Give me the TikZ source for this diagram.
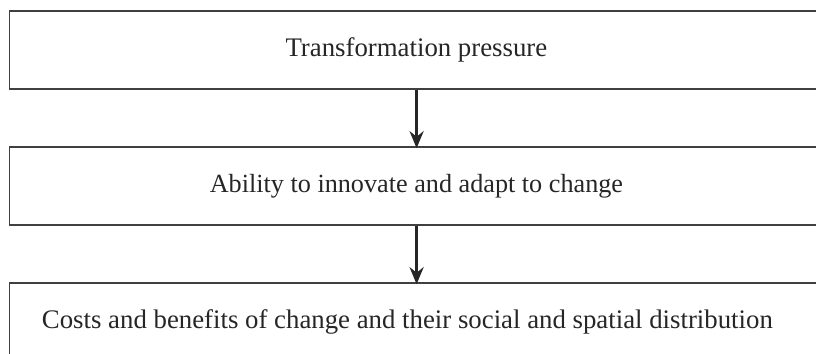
\documentclass[tikz,border=0pt]{standalone}
\usepackage{fontspec}
\setmainfont{Liberation Serif}
\usepackage{tikz}
\usetikzlibrary{positioning,arrows.meta}

\begin{document}
\begin{tikzpicture}[rectangle, node distance=68pt,
        stage/.style={draw=black!75, line width=0.8pt, minimum width=410pt, minimum height=39pt,
            inner sep=0pt, text=black!85, font=\fontsize{13.4}{16}\selectfont},
        flow/.style={-{Stealth[length=8.5pt,width=7pt]}, line width=1.3pt, draw=black!85}]
        \useasboundingbox (0,0) rectangle (408pt,177pt);
        \node (pressure) [stage] at (209.7pt,152pt) {Transformation pressure\hspace*{3pt}};
        \node (ability) [stage, below of=pressure] {\fontsize{13.1}{16}\selectfont Ability to innovate and adapt to change\hspace*{3pt}};
        \node (costs) [stage, below of=ability] {Costs and benefits of change and their social and spatial distribution\hspace*{12pt}};

        \draw[flow] ([xshift=-1.4pt]pressure.south) -- ([xshift=-1.4pt,yshift=-1pt]ability.north);
        \draw[flow] ([xshift=-1.4pt]ability.south) -- ([xshift=-1.4pt,yshift=-1pt]costs.north);
    \end{tikzpicture}
\end{document}
